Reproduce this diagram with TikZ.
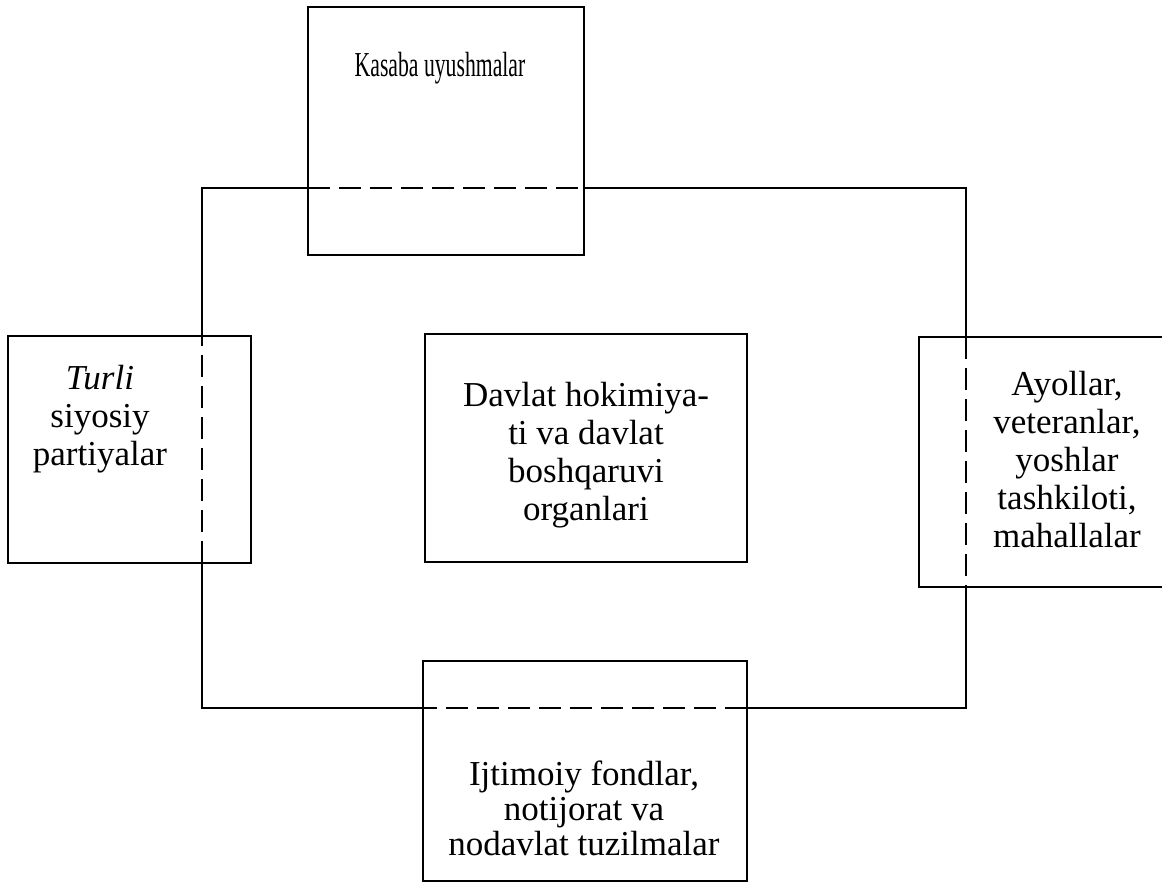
\documentclass[tikz,border=0pt]{standalone}
\usepackage{fontspec}
\setmainfont{Liberation Serif}
\begin{document}
\begin{tikzpicture}[x=1pt,y=-1pt,
  box/.style={draw=black,line width=2pt,inner sep=0pt},
  frame/.style={draw=black,line width=2.2pt},
  dsh/.style={draw=black,line width=2.2pt,dash pattern=on 22pt off 9pt},
  txt/.style={align=center,inner sep=0pt,font=\fontsize{35}{38}\selectfont}]
\useasboundingbox[fill=white] (0,0) rectangle (1162,883);
% boxes
\draw[box] (308,7) rectangle (584,255);
\draw[box] (8,336) rectangle (251,563);
\draw[box] (919,337) rectangle (1175,587);
\draw[box] (423,661) rectangle (747,881);
\draw[box] (425,334) rectangle (747,562);
% frame corners
\coordinate (tl) at (202,188);
\coordinate (tr) at (966,188);
\coordinate (br) at (966,708);
\coordinate (bl) at (202,708);
\coordinate (t1) at (308,188);
\coordinate (t2) at (584,188);
\coordinate (r1) at (966,337);
\coordinate (r2) at (966,587);
\coordinate (b1) at (747,708);
\coordinate (b2) at (423,708);
\coordinate (l1) at (202,563);
\coordinate (l2) at (202,336);
\draw[frame,line join=miter] (l2) -- (tl) -- (t1);
\draw[dsh] (t1) -- (t2);
\draw[frame,line join=miter] (t2) -- (tr) -- (r1);
\draw[dsh] (r1) -- (r2);
\draw[frame,line join=miter] (r2) -- (br) -- (b1);
\draw[dsh] (b1) -- (b2);
\draw[frame,line join=miter] (b2) -- (bl) -- (l1);
\draw[dsh] (l1) -- (l2);
% texts
\node[txt] (kasaba) at (440,68) {\scalebox{0.62}[1]{Kasaba uyushmalar}};
\node[txt] (davlat) at (586,455) {Davlat hokimiya-\\ti va davlat\\boshqaruvi\\organlari};
\node[txt] (turli) at (100,419) {\textit{Turli}\\siyosiy\\partiyalar};
\node[txt] (ayollar) at (1067,460) {Ayollar,\\veteranlar,\\yoshlar\\tashkiloti,\\mahallalar};
\node[txt,font=\fontsize{35}{35}\selectfont] (ijt) at (584,808) {Ijtimoiy fondlar,\\notijorat va\\nodavlat tuzilmalar};
\end{tikzpicture}
\end{document}
